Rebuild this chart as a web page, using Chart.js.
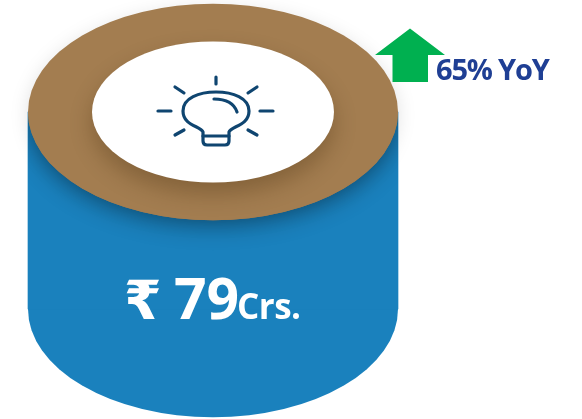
<!DOCTYPE html>
<html>
<head>
<meta charset="utf-8">
<style>
  html, body { margin: 0; padding: 0; background: #fff; }
  #wrap { width: 582px; height: 419px; }
</style>
<script src="https://cdn.jsdelivr.net/npm/chart.js@4/dist/chart.umd.min.js"></script>
</head>
<body>
<div id="wrap"><canvas id="myChart"></canvas></div>
<script>
const categories = ['Revenue'];
const seriesValues = [79];
const yoyValues = [65];
const currencySign = '₹';
const unitLabel = 'Crs.';
const yoyLabel = 'YoY';

const bodyColor = '#1a81bd';
const capColor = '#a37d50';
const iconColor = '#0f4570';
const arrowColor = '#00b050';
const yoyColor = '#1f3f94';
const fontName = '"Open Sans", "DejaVu Sans", sans-serif';

function ellipse(ctx, x, y, rx, ry) {
  ctx.beginPath();
  ctx.ellipse(x, y, rx, ry, 0, 0, Math.PI * 2);
}

function drawBulb(ctx, x, y) {
  ctx.save();
  ctx.translate(x, y);
  ctx.strokeStyle = iconColor;
  ctx.lineWidth = 3.2;
  ctx.lineCap = 'round';
  ctx.lineJoin = 'round';
  // rays
  const rays = [[0, -34, 0, -27], [-58, 0, -45, 0], [44, 0, 57, 0], [-41, -24, -32, -18],
    [32, -18, 41, -24], [-41, 24, -32, 19], [32, 19, 41, 24]];
  rays.forEach(r => {
    ctx.beginPath();
    ctx.moveTo(r[0], r[1]);
    ctx.lineTo(r[2], r[3]);
    ctx.stroke();
  });
  // glass and screw base
  ctx.beginPath();
  ctx.moveTo(-13, 21);
  ctx.bezierCurveTo(-15, 15, -33, 15, -33, 0);
  ctx.bezierCurveTo(-33, -13, -17, -19, 0, -19);
  ctx.bezierCurveTo(17, -19, 33, -13, 33, 0);
  ctx.bezierCurveTo(33, 15, 15, 15, 13, 21);
  ctx.lineTo(13, 30);
  ctx.quadraticCurveTo(13, 34, 9, 34);
  ctx.lineTo(-9, 34);
  ctx.quadraticCurveTo(-13, 34, -13, 30);
  ctx.closePath();
  ctx.stroke();
  ctx.beginPath();
  ctx.moveTo(-13, 25);
  ctx.lineTo(13, 25);
  ctx.stroke();
  // highlight
  ctx.beginPath();
  ctx.moveTo(-2, -12);
  ctx.bezierCurveTo(10, -12, 18, -8, 21, 1);
  ctx.stroke();
  ctx.restore();
}

// cylinder ends, bulb, arrow and labels are placed from the bar element
const cylinderPlugin = {
  id: 'cylinder',
  beforeDatasetsDraw(chart) {
    const bar = chart.getDatasetMeta(0).data[0];
    const ctx = chart.ctx;
    const rx = bar.width / 2;
    ctx.save();
    ctx.fillStyle = bodyColor;
    ellipse(ctx, bar.x, bar.base, rx, rx * 0.585);
    ctx.fill();
    ctx.restore();
  },
  afterDatasetsDraw(chart) {
    const bar = chart.getDatasetMeta(0).data[0];
    const ctx = chart.ctx;
    const rx = bar.width / 2;
    const ry = rx * 0.585;

    // faint halo of the top face on the page
    ctx.save();
    ctx.shadowColor = 'rgba(0,0,0,0.18)';
    ctx.shadowBlur = 22;
    ctx.fillStyle = capColor;
    ellipse(ctx, bar.x, bar.y + 3, rx - 4, ry - 6);
    ctx.fill();
    ctx.restore();

    // darker shadow falling on the side of the cylinder
    ctx.save();
    ctx.beginPath();
    ctx.rect(bar.x - rx, bar.y, rx * 2, bar.base - bar.y + ry);
    ctx.clip();
    ctx.shadowColor = 'rgba(0,0,0,0.32)';
    ctx.shadowBlur = 24;
    ctx.shadowOffsetY = 5;
    ctx.fillStyle = capColor;
    ellipse(ctx, bar.x, bar.y, rx, ry);
    ctx.fill();
    ctx.restore();

    ctx.save();
    ctx.fillStyle = capColor;
    ellipse(ctx, bar.x, bar.y, rx, ry);
    ctx.fill();
    ctx.restore();

    // shade on the ring below the opening
    ctx.save();
    ellipse(ctx, bar.x, bar.y, rx, ry);
    ctx.clip();
    ctx.shadowColor = 'rgba(60,35,5,0.3)';
    ctx.shadowBlur = 22;
    ctx.shadowOffsetY = 11;
    ctx.fillStyle = '#fff';
    ellipse(ctx, bar.x, bar.y, rx * 0.654, ry * 0.652);
    ctx.fill();
    ctx.restore();

    drawBulb(ctx, bar.x + 3, bar.y - 1);

    // value label
    ctx.save();
    ctx.fillStyle = '#fff';
    ctx.textBaseline = 'alphabetic';
    ctx.textAlign = 'left';
    const baseline = bar.base + 10;
    ctx.font = 'bold 54px ' + fontName;
    ctx.fillText(currencySign, bar.x - 89, baseline);
    ctx.font = 'bold 57px ' + fontName;
    ctx.fillText(String(seriesValues[0]), bar.x - 39, baseline);
    ctx.font = 'bold 35px ' + fontName;
    ctx.letterSpacing = '-0.5px';
    ctx.fillText(unitLabel, bar.x + 24, baseline);
    ctx.restore();

    // growth arrow and its label
    const ax = bar.x + 197;
    const ay = bar.y - 83.5;
    ctx.save();
    ctx.fillStyle = arrowColor;
    ctx.beginPath();
    ctx.moveTo(ax, ay);
    ctx.lineTo(ax + 35, ay + 26.5);
    ctx.lineTo(ax + 18, ay + 26.5);
    ctx.lineTo(ax + 18, ay + 53.5);
    ctx.lineTo(ax - 17.5, ay + 53.5);
    ctx.lineTo(ax - 17.5, ay + 26.5);
    ctx.lineTo(ax - 35, ay + 26.5);
    ctx.closePath();
    ctx.fill();
    ctx.fillStyle = yoyColor;
    ctx.font = 'bold 29px ' + fontName;
    ctx.letterSpacing = '-1.2px';
    ctx.textBaseline = 'alphabetic';
    ctx.fillText(yoyValues[0] + '% ' + yoyLabel, ax + 26, ay + 52);
    ctx.restore();
  }
};

const config = {
  type: 'bar',
  data: {
    labels: categories,
    datasets: [{
      data: seriesValues,
      backgroundColor: bodyColor,
      borderWidth: 0,
      barThickness: 370
    }]
  },
  options: {
    responsive: true,
    maintainAspectRatio: false,
    animation: false,
    layout: { padding: { right: 156 } },
    plugins: { legend: { display: false }, tooltip: { enabled: false } },
    scales: {
      x: { display: false },
      y: { display: false, min: -44.1, max: 123.9 }
    }
  },
  plugins: [cylinderPlugin]
};

const myChart = new Chart(document.getElementById('myChart'), config);
</script>
</body>
</html>
